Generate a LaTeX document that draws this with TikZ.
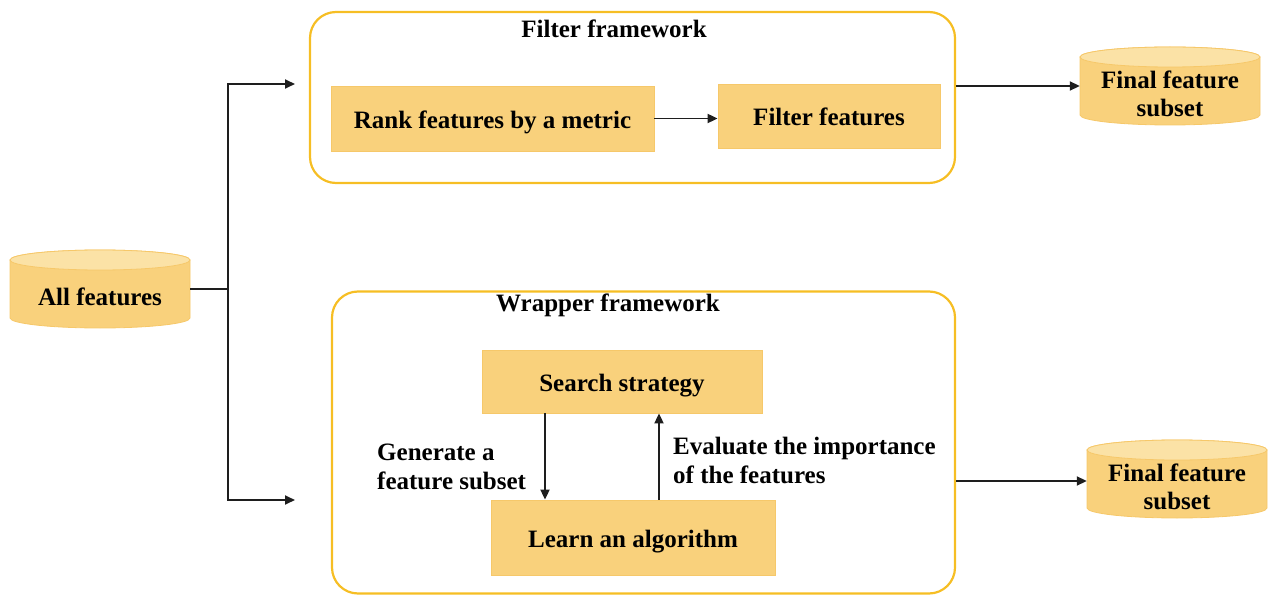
\documentclass[tikz,border=0pt]{standalone}
\usepackage{fontspec}
\setmainfont{Liberation Serif}
\usetikzlibrary{arrows.meta}
\definecolor{boxfill}{HTML}{F9D17C}
\definecolor{boxedge}{HTML}{F6C86A}
\definecolor{frameedge}{HTML}{F6BE24}
\definecolor{cyltop}{HTML}{FBE2A6}
\definecolor{linecol}{HTML}{1E1E1E}
\tikzset{
  txt/.style={font=\fontsize{25}{29}\selectfont\bfseries, text=black},
  procbox/.style={txt, fill=boxfill, draw=boxedge, line width=0.8pt, inner sep=0pt, text height=20pt, text depth=0pt},
  frame/.style={draw=frameedge, line width=2.2pt, rounded corners=26pt, inner sep=0pt},
  cylbody/.style={fill=boxfill, draw=boxedge, line width=0.8pt},
  cyltopst/.style={fill=cyltop, draw=boxedge, line width=0.8pt},
  cyllabel/.style={txt, inner sep=0pt, minimum width=180pt, minimum height=78pt},
  arr/.style={draw=linecol, line width=1.8pt, -{Triangle[length=10pt,width=9pt]}},
  conn/.style={draw=linecol, line width=1.8pt},
  lbl/.style={txt, align=left, inner sep=0pt}
}
\begin{document}
\begin{tikzpicture}[x=1pt,y=-1pt]
\useasboundingbox (0,0) rectangle (1269,596);
% cylinders
\path[cylbody] (10,260) -- (10,318) arc[start angle=180,end angle=0,x radius=90,y radius=10] -- (190,260) arc[start angle=0,end angle=-180,x radius=90,y radius=10] -- cycle;
\path[cyltopst] (100,260) ellipse[x radius=90,y radius=10];
\path[cylbody] (1080,57) -- (1080,115) arc[start angle=180,end angle=0,x radius=90,y radius=10] -- (1260,57) arc[start angle=0,end angle=-180,x radius=90,y radius=10] -- cycle;
\path[cyltopst] (1170,57) ellipse[x radius=90,y radius=10];
\path[cylbody] (1087,450) -- (1087,508) arc[start angle=180,end angle=0,x radius=90,y radius=10] -- (1267,450) arc[start angle=0,end angle=-180,x radius=90,y radius=10] -- cycle;
\path[cyltopst] (1177,450) ellipse[x radius=90,y radius=10];
\node[cyllabel] (all) at (100,289) {\smash{\raisebox{-16pt}{All features}}};
\node[cyllabel] (f1) at (1170,86) {\smash{\raisebox{-17pt}{\begin{tabular}{@{}c@{}}Final feature\\[-1pt]subset\end{tabular}}}};
\node[cyllabel] (f2) at (1177,481) {\smash{\raisebox{-15pt}{\begin{tabular}{@{}c@{}}Final feature\\[-1pt]subset\end{tabular}}}};
% frames
\node[frame, minimum width=645pt, minimum height=171pt] (filt) at (632.5,97.5) {};
\node[txt] (filttitle) at (614,29) {Filter framework};
\node[frame, minimum width=623pt, minimum height=302pt] (wrap) at (643.5,442.5) {};
\node[txt] (wraptitle) at (608,305) {Wrapper framework};
% process boxes
\node[procbox, minimum width=323pt, minimum height=65pt] (rank) at (492.5,118.5) {Rank features by a metric};
\node[procbox, minimum width=222pt, minimum height=64pt] (filtf) at (829,116) {Filter features};
\node[procbox, minimum width=280pt, minimum height=63pt] (search) at (622,381.5) {Search strategy};
\node[procbox, minimum width=284pt, minimum height=75pt] (learn) at (633,537.5) {Learn an algorithm};
% labels
\node[lbl, anchor=west] (gen) at (377,467) {Generate a\\feature subset};
\node[lbl, anchor=west] (eval) at (673,460) {Evaluate the importance\\of the features};
% connectors
\coordinate (split) at (228,289);
\coordinate (e1) at (295,84);
\coordinate (e2) at (295,500);
\draw[conn] (all.east) -- (split);
\draw[arr] (split) |- (e1);
\draw[arr] (split) |- (e2);
\draw[arr] (rank.east) -- (rank.east -| filtf.west);
\draw[arr] (filt.east |- f1) -- (f1.west);
\draw[arr] (wrap.east |- f2) -- (f2.west);
\draw[arr] ([xshift=-77pt]search.south) -- ([xshift=-77pt]search.south |- learn.north);
\draw[arr] ([xshift=37pt]search.south |- learn.north) -- ([xshift=37pt]search.south);
\end{tikzpicture}
\end{document}
